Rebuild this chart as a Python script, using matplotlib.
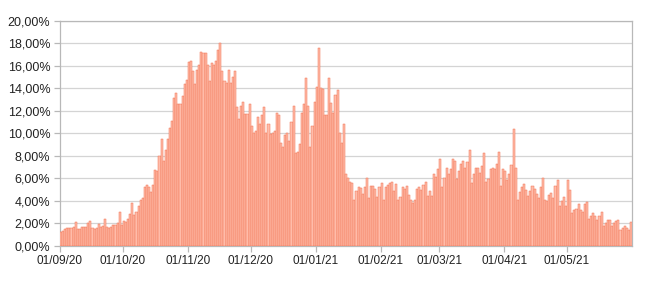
import matplotlib
matplotlib.use("Agg")
import matplotlib.pyplot as plt
import matplotlib.dates as mdates
import numpy as np
import pandas as pd
from matplotlib.ticker import FuncFormatter

# Daily positivity rate (%) by month
sep20 = [1.2, 1.3, 1.5, 1.55, 1.55, 1.6, 1.7, 2.1, 1.5, 1.5,
         1.7, 1.65, 1.65, 2.0, 2.2, 1.6, 1.5, 1.6, 1.9, 1.65,
         1.75, 2.4, 1.65, 1.6, 1.65, 1.8, 1.8, 2.0, 2.95, 1.8]
oct20 = [2.2, 2.1, 2.4, 2.8, 3.75, 2.7, 3.0, 3.5, 4.1, 4.2,
         5.2, 5.4, 5.25, 4.8, 5.4, 6.7, 6.6, 8.0, 9.5, 7.5,
         8.5, 9.5, 10.5, 11.1, 13.1, 13.6, 12.6, 12.6, 13.3, 14.4, 14.7]
nov20 = [16.3, 16.4, 15.5, 14.4, 15.6, 16.1, 17.2, 17.1, 17.1, 16.1,
         14.6, 16.2, 16.1, 16.4, 17.4, 18.0, 15.5, 14.6, 14.5, 15.6,
         14.5, 15.0, 15.5, 12.35, 11.3, 12.4, 12.8, 11.7, 11.7, 12.6]
dec20 = [10.6, 10.0, 10.2, 11.4, 10.8, 11.6, 12.35, 10.0, 10.8, 9.9,
         10.0, 10.2, 11.8, 11.6, 9.15, 8.8, 9.8, 10.0, 9.3, 11.0,
         12.4, 8.2, 8.35, 9.0, 11.8, 12.6, 14.9, 12.4, 8.8, 10.6, 12.8]
jan21 = [14.1, 17.6, 14.0, 13.9, 11.6, 11.6, 14.9, 12.7, 11.8, 13.4,
         13.8, 10.0, 9.1, 10.8, 6.4, 6.0, 5.7, 5.6, 4.1, 4.9,
         5.2, 5.1, 4.6, 5.2, 6.0, 4.2, 5.3, 5.3, 5.0, 4.3, 5.2]
feb21 = [5.6, 4.1, 5.2, 5.4, 5.6, 5.7, 4.9, 5.5, 4.1, 4.3,
         5.2, 5.0, 5.3, 4.5, 4.1, 3.8, 4.1, 5.0, 5.2, 4.95,
         5.4, 5.7, 4.4, 4.9, 4.4, 6.35, 6.1, 6.8]
mar21 = [7.7, 5.2, 6.0, 6.9, 6.4, 6.8, 7.7, 7.5, 5.9, 6.6,
         7.3, 7.5, 6.9, 7.4, 8.5, 5.6, 6.4, 6.9, 6.9, 6.5,
         7.1, 8.2, 5.7, 5.9, 6.8, 6.9, 6.8, 7.25, 8.3, 5.3, 6.8]
apr21 = [6.6, 5.8, 6.4, 7.2, 10.4, 6.9, 4.05, 4.8, 5.2, 5.5,
         4.95, 4.4, 4.9, 5.3, 5.0, 4.6, 4.2, 5.2, 6.0, 4.1,
         4.0, 4.5, 4.7, 4.2, 5.3, 5.8, 3.5, 4.0, 4.3, 3.5]
may21 = [5.8, 4.95, 2.9, 3.2, 3.3, 3.7, 3.2, 3.0, 3.7, 3.9,
         2.4, 2.6, 2.9, 2.6, 2.3, 2.6, 2.95, 1.75, 2.05, 2.3,
         2.3, 1.75, 2.05, 2.2, 2.3, 1.4, 1.6, 1.75, 1.55, 1.4, 2.1]

values = sep20 + oct20 + nov20 + dec20 + jan21 + feb21 + mar21 + apr21 + may21
dates = pd.date_range("2020-09-01", periods=len(values), freq="D")
tick_dates = pd.date_range("2020-09-01", "2021-05-01", freq="MS")
y_ticks = np.arange(0, 21, 2)

fig = plt.figure(figsize=(6.5, 2.82), dpi=100)
ax = fig.add_axes([0.0923, 0.129, 0.88, 0.7976])

x = mdates.date2num(dates)
ax.bar(x, values, width=1.0, align="edge", color="#ffbcaa",
       edgecolor="#f0714f", linewidth=0.35, zorder=3)

ax.set_xlim(mdates.date2num(pd.Timestamp("2020-09-01")),
            mdates.date2num(pd.Timestamp("2021-06-01")))
ax.set_ylim(0, 20)
ax.set_xticks(mdates.date2num(tick_dates))
ax.set_xticklabels([d.strftime("%d/%m/%y") for d in tick_dates])
ax.set_yticks(y_ticks)
ax.yaxis.set_major_formatter(FuncFormatter(lambda v, p: f"{v:.2f}%".replace(".", ",")))

ax.grid(axis="y", color="#d4d4d4", linewidth=0.9, zorder=0)
for s in ax.spines.values():
    s.set_color("#b8b8b8")
    s.set_linewidth(0.9)
ax.tick_params(axis="both", colors="#b8b8b8", labelcolor="#222222",
               length=4, width=0.9)
ax.tick_params(axis="x", labelsize=8.5, pad=3)
ax.tick_params(axis="y", labelsize=9, pad=3)
for lbl in ax.get_xticklabels() + ax.get_yticklabels():
    lbl.set_fontfamily("Liberation Sans")

fig.savefig("out.png", dpi=100)
